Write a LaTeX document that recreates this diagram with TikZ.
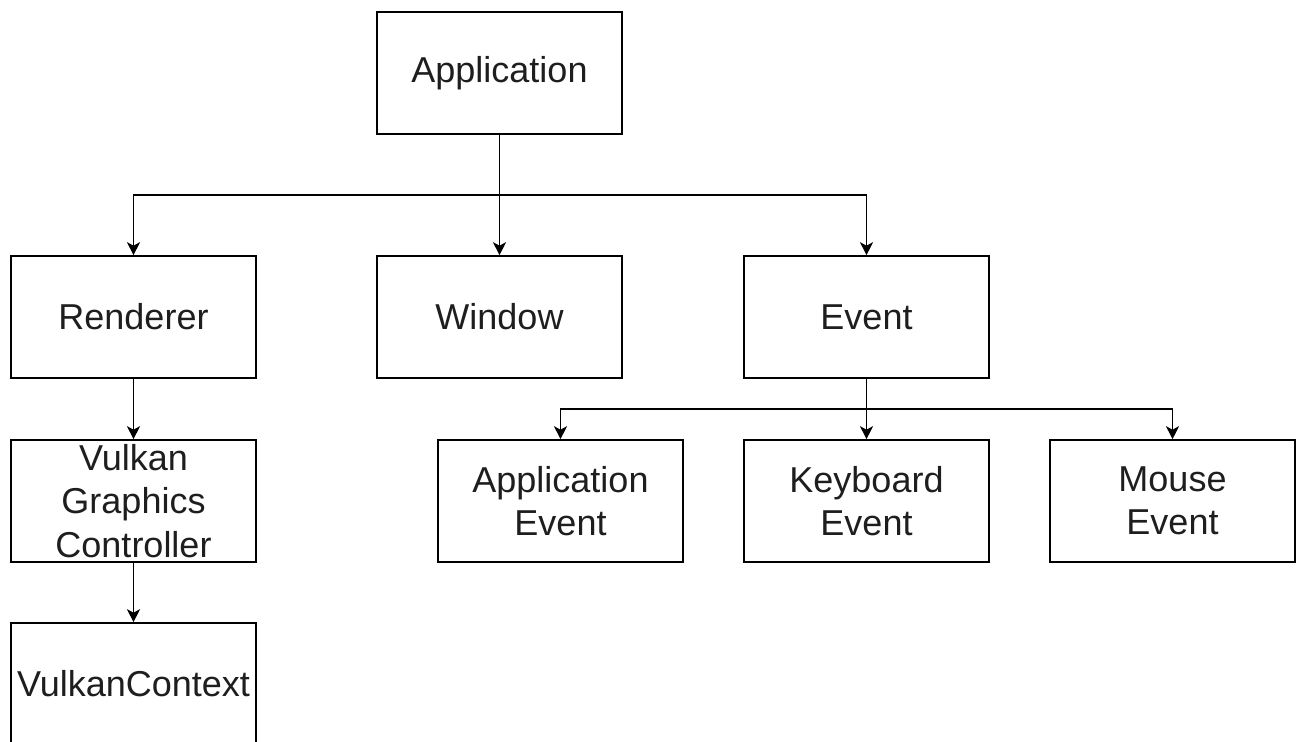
\documentclass[tikz,border=0pt]{standalone}
\usepackage{fontspec}
\setmainfont{Liberation Sans}
\usetikzlibrary{arrows.meta}
\definecolor{txt}{RGB}{30,30,30}
\begin{document}
\begin{tikzpicture}[x=1pt,y=-1pt,
  box/.style={draw=black,line width=1.6pt,minimum width=245pt,minimum height=122pt,inner sep=0pt,
    align=center,text=txt,font=\fontsize{36}{43.2}\selectfont},
  arr/.style={draw=black,line width=1.6pt,-{Stealth[length=13pt,width=13pt,inset=3.5pt]}}]
\useasboundingbox (0,0) rectangle (1302,742);
\node[box] (app) at (499.5,73) {Application};
\node[box] (rend) at (133.5,317) {Renderer};
\node[box] (win) at (499.5,317) {Window};
\node[box] (ev) at (866.5,317) {Event};
\node[box] (vgc) at (133.5,501) {Vulkan\\Graphics\\Controller};
\node[box] (vc) at (133.5,684) {VulkanContext};
\node[box] (ae) at (560.5,501) {Application\\Event};
\node[box] (ke) at (866.5,501) {Keyboard\\Event};
\node[box] (me) at (1172.5,501) {Mouse\\Event};
\coordinate (b1) at (499.5,195);
\coordinate (b2) at (866.5,409);
\draw[arr] (app.south) -- (win.north);
\draw[arr] (app.south) -- (b1) -| (rend.north);
\draw[arr] (app.south) -- (b1) -| (ev.north);
\draw[arr] (ev.south) -- (ke.north);
\draw[arr] (ev.south) -- (b2) -| (ae.north);
\draw[arr] (ev.south) -- (b2) -| (me.north);
\draw[arr] (rend.south) -- (vgc.north);
\draw[arr] (vgc.south) -- (vc.north);
\end{tikzpicture}
\end{document}
